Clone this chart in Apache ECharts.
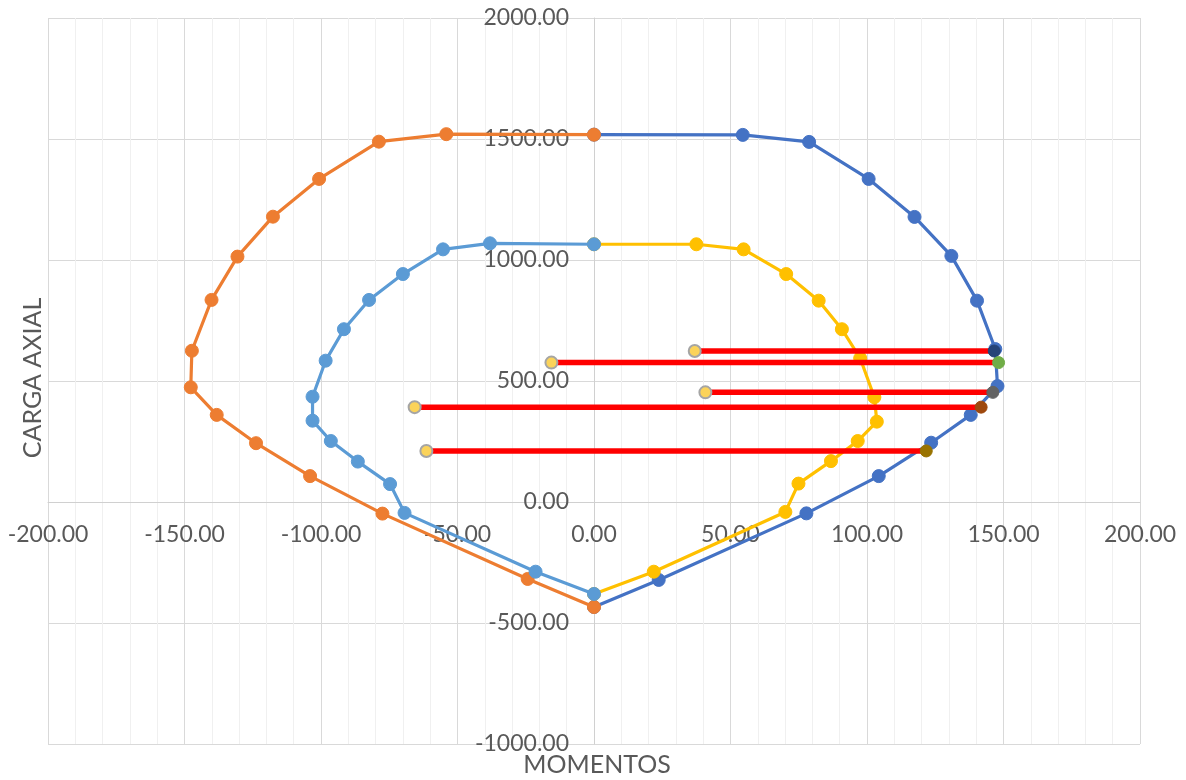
<!DOCTYPE html>
<html>
<head>
<meta charset="utf-8">
<script src="https://cdn.jsdelivr.net/npm/echarts@6/dist/echarts.min.js"></script>
<style>
  html, body { margin: 0; padding: 0; background: #ffffff; }
  #chart { width: 1186px; height: 780px; }
</style>
</head>
<body>
<div id="chart"></div>
<script>
// Interaction diagram: moment (M) vs axial load (P)

// Outer envelope, positive moments
const outerRightM = [0, 54.5, 78.8, 100.6, 117.4, 130.9, 140.3, 147.0, 147.8, 138.0, 123.5, 104.3, 77.8, 23.7, 0];
const outerRightP = [1518, 1517, 1488, 1335, 1178, 1017, 832, 632, 479, 360, 245, 107, -47, -322, -434];

// Outer envelope, negative moments
const outerLeftM = [0, -54.1, -78.8, -100.7, -117.6, -130.6, -140.1, -147.3, -147.7, -138.2, -123.8, -104.0, -77.5, -24.3, 0];
const outerLeftP = [1518, 1520, 1489, 1335, 1179, 1014, 835, 625, 474, 360, 243, 107, -48, -318, -434];

// Inner (reduced) envelope, negative moments
const innerLeftM = [0, -38.1, -55.3, -70.0, -82.4, -91.6, -98.3, -103.1, -103.1, -96.4, -86.5, -74.7, -69.4, -21.4, 0];
const innerLeftP = [1065, 1069, 1044, 942, 835, 714, 584, 435, 336, 252, 167, 74, -45, -288, -380];

// Inner (reduced) envelope, positive moments
const innerRightM = [0, 37.5, 54.8, 70.4, 82.3, 90.8, 97.5, 102.7, 103.6, 96.6, 86.8, 74.9, 70.1, 21.9, 0];
const innerRightP = [1065, 1065, 1044, 942, 832, 714, 594, 433, 332, 252, 169, 76, -41, -288, -380];

// Load combinations: acting moment, axial load, and moment reached on the outer envelope
const demandM = [36.9, -15.6, 40.8, -65.7, -61.4];
const demandP = [624, 576, 453, 392, 211];
const capacityM = [146.6, 148.2, 146.1, 141.8, 121.7];

// Axis ticks
const xTicks = { min: -200, max: 200, step: 50 };
const yTicks = { min: -1000, max: 2000, step: 500 };

const FONT = 'Lato, "Noto Sans", sans-serif';
const endColors = ['#264478', '#70ad47', '#636363', '#9e480e', '#997300'];

// Plot box
const W = 1186, H = 780;
const G = { left: 48, right: 46, top: 18, bottom: 36 };
const plotW = W - G.left - G.right;
const plotH = H - G.top - G.bottom;
// Shift the axes inward so they cross at the origin
const xAxisShift = -plotH * (0 - yTicks.min) / (yTicks.max - yTicks.min);
const yAxisShift = -plotW * (0 - xTicks.min) / (xTicks.max - xTicks.min);

function pairs(ms, ps) {
  return ms.map((m, i) => [m, ps[i]]);
}

function curve(name, ms, ps, color, z) {
  return {
    name: name,
    type: 'line',
    data: pairs(ms, ps),
    z: z,
    symbol: 'circle',
    symbolSize: 13,
    showSymbol: true,
    lineStyle: { color: color, width: 3.2 },
    itemStyle: { color: color, borderColor: color },
    animation: false
  };
}

const series = [
  curve('Envolvente M+', outerRightM, outerRightP, '#4472c4', 2),
  curve('Envolvente M-', outerLeftM, outerLeftP, '#ed7d31', 3),
  curve('Reducida M+', innerRightM, innerRightP, '#ffc000', 2),
  curve('Reducida M-', innerLeftM, innerLeftP, '#5b9bd5', 3)
];

demandM.forEach((m, i) => {
  series.push({
    name: 'Combinación ' + (i + 1),
    type: 'line',
    z: 4,
    symbol: 'circle',
    symbolSize: 12,
    lineStyle: { color: '#ff0000', width: 5.5 },
    data: [
      { value: [m, demandP[i]], itemStyle: { color: '#fbd35a', borderColor: '#a5a5a5', borderWidth: 2 } },
      { value: [capacityM[i], demandP[i]], itemStyle: { color: endColors[i], borderColor: endColors[i] } }
    ],
    animation: false
  });
});

const chart = echarts.init(document.getElementById('chart'), null, { renderer: 'canvas' });

chart.setOption({
  backgroundColor: '#ffffff',
  animation: false,
  grid: { left: G.left, right: G.right, top: G.top, bottom: G.bottom, containLabel: false, outerBoundsMode: 'none' },
  xAxis: {
    type: 'value',
    position: 'bottom',
    offset: xAxisShift,
    min: xTicks.min,
    max: xTicks.max,
    interval: xTicks.step,
    axisLine: { show: true, onZero: false, lineStyle: { color: '#d0d0d0', width: 1 } },
    axisTick: { show: false },
    axisLabel: {
      margin: 21,
      fontFamily: FONT,
      fontSize: 23,
      color: '#595959',
      formatter: v => v.toFixed(2)
    },
    splitLine: { show: true, lineStyle: { color: '#d9d9d9', width: 1 } },
    minorTick: { show: false, splitNumber: 5 },
    minorSplitLine: { show: true, lineStyle: { color: '#f0f0f0', width: 1 } }
  },
  yAxis: {
    type: 'value',
    position: 'left',
    offset: yAxisShift,
    min: yTicks.min,
    max: yTicks.max,
    interval: yTicks.step,
    axisLine: { show: true, onZero: false, lineStyle: { color: '#d0d0d0', width: 1 } },
    axisTick: { show: false },
    axisLabel: {
      margin: 25,
      fontFamily: FONT,
      fontSize: 23,
      color: '#595959',
      formatter: v => v.toFixed(2)
    },
    splitLine: { show: true, lineStyle: { color: '#d9d9d9', width: 1 } }
  },
  graphic: [
    {
      type: 'text',
      x: 33,
      y: 378,
      rotation: Math.PI / 2,
      style: {
        text: 'CARGA AXIAL',
        font: '25px ' + FONT,
        fill: '#595959',
        textAlign: 'center',
        textVerticalAlign: 'middle'
      }
    },
    {
      type: 'text',
      x: 597,
      y: 765,
      style: {
        text: 'MOMENTOS',
        font: '25px ' + FONT,
        fill: '#595959',
        textAlign: 'center',
        textVerticalAlign: 'middle'
      }
    }
  ],
  series: series
});
</script>
</body>
</html>
